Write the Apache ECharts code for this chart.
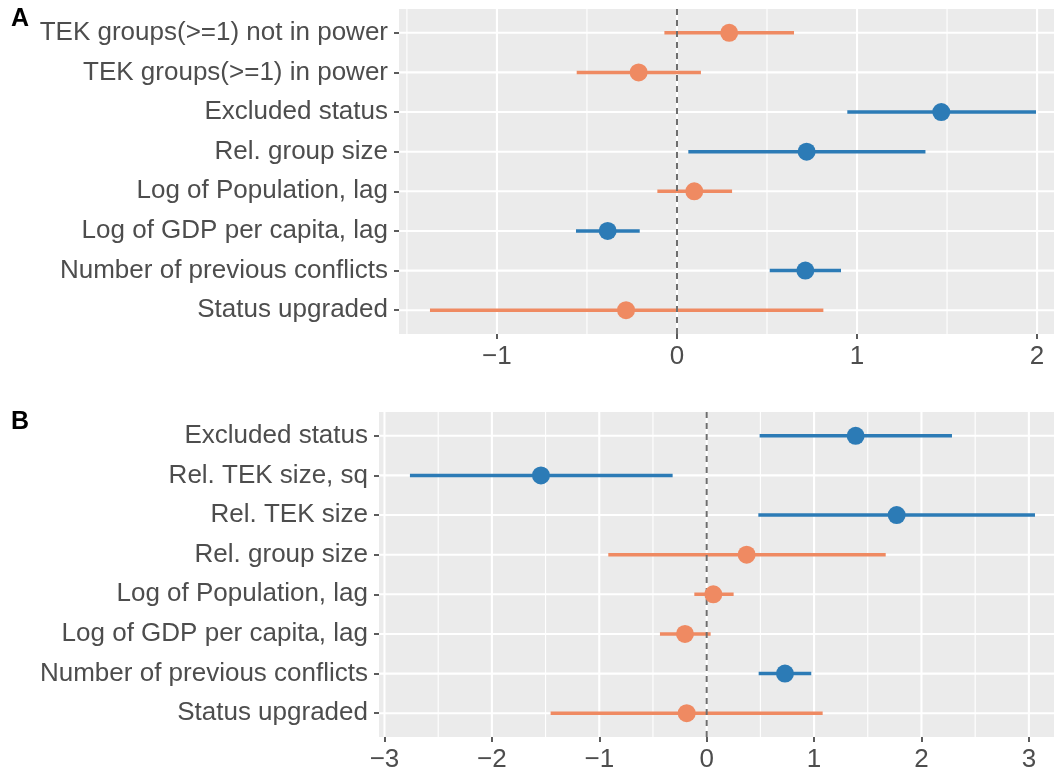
<!DOCTYPE html>
<html>
<head>
<meta charset="utf-8">
<script src="https://cdn.jsdelivr.net/npm/echarts@6/dist/echarts.min.js"></script>
<style>
  html, body { margin: 0; padding: 0; background: #ffffff; }
  #chart { width: 1059px; height: 770px; }
</style>
</head>
<body>
<div id="chart"></div>
<script>
// ---- Panel A: estimates with confidence intervals ----
const catsA = [
  'TEK groups(>=1) not in power',
  'TEK groups(>=1) in power',
  'Excluded status',
  'Rel. group size',
  'Log of Population, lag',
  'Log of GDP per capita, lag',
  'Number of previous conflicts',
  'Status upgraded'
];
const estA  = [0.29, -0.213, 1.468, 0.72, 0.096, -0.385, 0.713, -0.283];
const lowA  = [-0.07, -0.557, 0.946, 0.063, -0.109, -0.561, 0.515, -1.372];
const highA = [0.65, 0.133, 1.994, 1.38, 0.306, -0.207, 0.911, 0.813];
const signifA = [false, false, true, true, false, true, true, false];
const ticksA = [-1, 0, 1, 2];
const minorA = [-1.5, -0.5, 0.5, 1.5];

// ---- Panel B ----
const catsB = [
  'Excluded status',
  'Rel. TEK size, sq',
  'Rel. TEK size',
  'Rel. group size',
  'Log of Population, lag',
  'Log of GDP per capita, lag',
  'Number of previous conflicts',
  'Status upgraded'
];
const estB  = [1.387, -1.543, 1.769, 0.372, 0.062, -0.202, 0.729, -0.186];
const lowB  = [0.493, -2.763, 0.481, -0.916, -0.115, -0.435, 0.484, -1.453];
const highB = [2.284, -0.317, 3.057, 1.667, 0.251, 0.037, 0.974, 1.08];
const signifB = [true, true, true, false, false, false, true, false];
const ticksB = [-3, -2, -1, 0, 1, 2, 3];
const minorB = [-2.5, -1.5, -0.5, 0.5, 1.5, 2.5];

const BLUE = '#2C7BB6';
const ORANGE = '#EF8A62';
const FONT = '"Liberation Sans", Arial, Helvetica, sans-serif';

function fmtNum(v) {
  return v < 0 ? '\u2212' + Math.abs(v) : String(v);
}

function vLine(width, color, dash) {
  return function (params, api) {
    const cs = params.coordSys;
    const x = api.coord([api.value(0), 0])[0];
    return {
      type: 'line',
      shape: { x1: x, y1: cs.y, x2: x, y2: cs.y + cs.height },
      style: { stroke: color, lineWidth: width, lineDash: dash || null }
    };
  };
}

function hLine(width, color) {
  return function (params, api) {
    const cs = params.coordSys;
    const y = api.coord([0, api.value(1)])[1];
    return {
      type: 'line',
      shape: { x1: cs.x, y1: y, x2: cs.x + cs.width, y2: y },
      style: { stroke: color, lineWidth: width }
    };
  };
}

function buildPanel(idx, cats, est, low, high, signif, ticks, minor) {
  const colorOf = i => (signif[i] ? BLUE : ORANGE);
  return [
    {
      type: 'custom', xAxisIndex: idx, yAxisIndex: idx, z: 1, silent: true,
      data: minor.map(v => [v, 0]),
      renderItem: vLine(1.1, '#ffffff')
    },
    {
      type: 'custom', xAxisIndex: idx, yAxisIndex: idx, z: 1, silent: true,
      data: ticks.map(v => [v, 0]),
      renderItem: vLine(2.1, '#ffffff')
    },
    {
      type: 'custom', xAxisIndex: idx, yAxisIndex: idx, z: 1, silent: true,
      data: cats.map((c, i) => [0, i]),
      renderItem: hLine(2.1, '#ffffff')
    },
    {
      // confidence intervals
      type: 'custom', xAxisIndex: idx, yAxisIndex: idx, z: 2, silent: true,
      data: cats.map((c, i) => [low[i], high[i], i]),
      encode: { x: [0, 1], y: 2 },
      renderItem: function (params, api) {
        const p1 = api.coord([api.value(0), api.value(2)]);
        const p2 = api.coord([api.value(1), api.value(2)]);
        return {
          type: 'line',
          shape: { x1: p1[0], y1: p1[1], x2: p2[0], y2: p2[1] },
          style: { stroke: colorOf(params.dataIndex), lineWidth: 3.5 }
        };
      }
    },
    {
      // reference line at zero
      type: 'custom', xAxisIndex: idx, yAxisIndex: idx, z: 3, silent: true,
      data: [[0, 0]],
      renderItem: vLine(2, '#6E6E6E', [6, 5])
    },
    {
      type: 'scatter', xAxisIndex: idx, yAxisIndex: idx, z: 4, silent: true,
      symbol: 'circle', symbolSize: 18,
      data: est.map((v, i) => [v, i]),
      itemStyle: { color: p => colorOf(p.dataIndex), opacity: 1 }
    }
  ];
}

function xAxisDef(idx, min, max, ticks) {
  return {
    type: 'value', gridIndex: idx, min: min, max: max,
    axisLine: { show: false, onZero: false },
    splitLine: { show: false },
    axisTick: { show: true, length: 5, customValues: ticks, lineStyle: { color: '#333333', width: 1.6 } },
    axisLabel: {
      customValues: ticks, margin: 10, color: '#4D4D4D', fontSize: 26, fontFamily: FONT,
      formatter: v => fmtNum(v)
    }
  };
}

function yAxisDef(idx, cats) {
  const pos = cats.map((c, i) => i);
  return {
    type: 'value', gridIndex: idx, inverse: true, min: -0.6, max: cats.length - 1 + 0.6,
    axisLine: { show: false, onZero: false },
    splitLine: { show: false },
    axisTick: { show: true, length: 5, customValues: pos, lineStyle: { color: '#333333', width: 1.6 } },
    axisLabel: {
      customValues: pos, margin: 11, color: '#4D4D4D', fontSize: 26, fontFamily: FONT,
      padding: [6, 0, 0, 0],
      formatter: v => cats[Math.round(v)]
    }
  };
}

const chart = echarts.init(document.getElementById('chart'), null, { renderer: 'canvas' });
chart.setOption({
  animation: false,
  backgroundColor: '#ffffff',
  grid: [
    { left: 399, top: 9, width: 655, height: 325, show: true, backgroundColor: '#EBEBEB', borderWidth: 0, containLabel: false, outerBoundsMode: 'none' },
    { left: 379, top: 412, width: 675, height: 325, show: true, backgroundColor: '#EBEBEB', borderWidth: 0, containLabel: false, outerBoundsMode: 'none' }
  ],
  xAxis: [
    xAxisDef(0, -1.544, 2.094, ticksA),
    xAxisDef(1, -3.051, 3.234, ticksB)
  ],
  yAxis: [
    yAxisDef(0, catsA),
    yAxisDef(1, catsB)
  ],
  graphic: [
    { type: 'text', left: 11, top: 7, style: { text: 'A', fontSize: 25, fontWeight: 'bold', fontFamily: FONT, fill: '#000000' } },
    { type: 'text', left: 11, top: 410, style: { text: 'B', fontSize: 25, fontWeight: 'bold', fontFamily: FONT, fill: '#000000' } }
  ],
  series: [].concat(
    buildPanel(0, catsA, estA, lowA, highA, signifA, ticksA, minorA),
    buildPanel(1, catsB, estB, lowB, highB, signifB, ticksB, minorB)
  )
});
</script>
</body>
</html>
